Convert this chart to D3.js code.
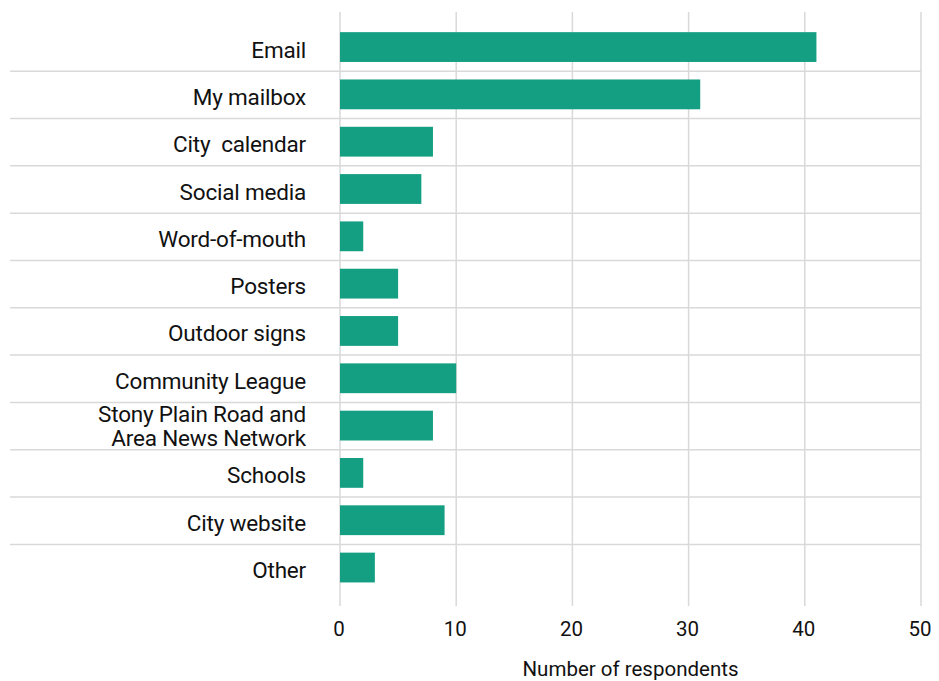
<!DOCTYPE html>
<html><head><meta charset="utf-8">
<script src="https://cdn.jsdelivr.net/npm/d3@7"></script>
<style>
body{margin:0;background:#fff;}
text{font-family:Roboto,"Noto Sans",sans-serif;fill:#111;}
</style></head>
<body><svg id="c" width="939" height="681"></svg>
<script>
const categories = ["Email","My mailbox","City  calendar","Social media","Word-of-mouth","Posters","Outdoor signs","Community League","Stony Plain Road and\nArea News Network","Schools","City website","Other"];
const values = [41,31,8,7,2,5,5,10,8,2,9,3];
const ticks = [0,10,20,30,40,50];
const axisTitle = "Number of respondents";

const svg = d3.select("#c");
const x = d3.scaleLinear().domain([0,50]).range([340,921]);
const y = d3.scaleBand().domain(categories).range([23.4,591.2]).paddingInner(0.37).paddingOuter(0.185);

// vertical gridlines
svg.append("g").selectAll("line").data(ticks).join("line")
  .attr("x1",d=>x(d)).attr("x2",d=>x(d)).attr("y1",12).attr("y2",606)
  .attr("stroke","#d9d9d9").attr("stroke-width",1.5);

// row separators
const step = y.step();
svg.append("g").selectAll("line").data(categories.slice(1)).join("line")
  .attr("x1",10).attr("x2",921)
  .attr("y1",d=>y(d)-(step-y.bandwidth())/2+0.5).attr("y2",d=>y(d)-(step-y.bandwidth())/2+0.5)
  .attr("stroke","#d9d9d9").attr("stroke-width",1.5);

// bars
svg.append("g").selectAll("rect").data(values).join("rect")
  .attr("x",x(0)).attr("y",(d,i)=>y(categories[i]))
  .attr("width",d=>x(d)-x(0)).attr("height",y.bandwidth())
  .attr("fill","#149f82");

// category labels
const lab = svg.append("g").selectAll("text").data(categories).join("text")
  .attr("text-anchor","end").attr("font-size",22.5).style("letter-spacing","-0.2px")
  .attr("x",306).attr("y",d=>y(d)+y.bandwidth()/2);
lab.each(function(d){
  const lines = d.split("\n");
  const t = d3.select(this);
  lines.forEach((l,i)=>{
    t.append("tspan").attr("x",306)
     .attr("dy", i===0 ? (lines.length===1 ? 10.5 : -3.5) : 24)
     .style("white-space","pre").text(l);
  });
});

// tick labels
svg.append("g").selectAll("text").data(ticks).join("text")
  .attr("text-anchor","middle").attr("font-size",20.5)
  .attr("x",d=>x(d)-1).attr("y",635.5).text(d=>d);

svg.append("text").attr("text-anchor","middle").attr("font-size",20.5)
  .attr("x",(x(0)+x(50))/2).attr("y",676).text(axisTitle);
</script></body></html>
